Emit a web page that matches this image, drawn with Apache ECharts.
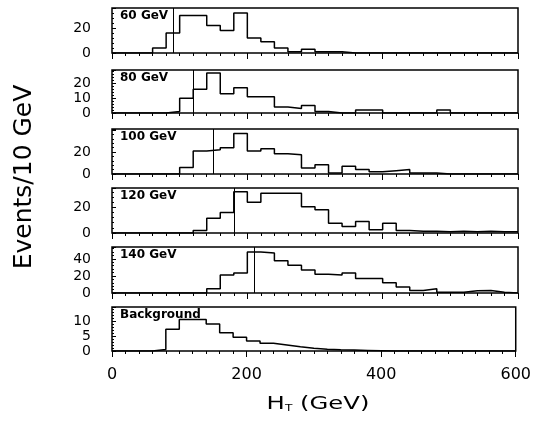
<!DOCTYPE html>
<html>
<head>
<meta charset="utf-8">
<script src="https://cdn.jsdelivr.net/npm/echarts@6/dist/echarts.min.js"></script>
<style>
  html, body { margin: 0; padding: 0; background: #fff; }
  #main { width: 534px; height: 421px; }
</style>
</head>
<body>
<div id="main"></div>
<script>
// bin left edges, 20 GeV wide
var binEdges = [0, 20, 40, 60, 80, 100, 120, 140, 160, 180, 200, 220, 240, 260, 280,
  300, 320, 340, 360, 380, 400, 420, 440, 460, 480, 500, 520, 540, 560, 580];
var xTicks = [0, 200, 400, 600];

var panelNames = ['60 GeV', '80 GeV', '100 GeV', '120 GeV', '140 GeV', 'Background'];
var cutValues = [90, 120, 150, 180, 210, null];

var h60 = [0, 0, 0, 4, 16, 30, 30, 22, 18, 32, 12, 9, 4, 1, 3,
  1, 1, 0, 0, 0, 0, 0, 0, 0, 0, 0, 0, 0, 0, 0];
var h80 = [0, 0, 0, 0, 1, 10, 16, 27, 13, 17, 11, 11, 4, 3, 5,
  1, 0, 0, 2, 2, 0, 0, 0, 0, 2, 0, 0, 0, 0, 0];
var h100 = [0, 0, 0, 0, 0, 6, 21, 22, 24, 37, 21, 23, 18.5, 17.5, 5.5,
  8.5, 1, 7, 4, 2, 3, 4, 1, 1, 0, 0, 0, 0, 0, 0];
var h120 = [0, 0, 0, 0, 0, 0, 2, 11.5, 16, 32, 24, 31, 31, 31, 20.5,
  18, 7.5, 5, 9, 2.5, 7.5, 2, 1.3, 1.3, 1, 1.3, 1, 1.3, 1, 1];
var h140 = [0, 0, 0, 0, 0, 0, 0, 5, 21, 23.5, 48, 47, 38, 32.5, 27,
  22, 21, 23.5, 17, 17, 12, 7, 3, 5, 1, 1, 2.5, 3, 1, 0];
var hBkg = [0, 0, 0, 0.5, 7.3, 10.5, 10.5, 9, 6.1, 4.6, 3.3, 2.6, 2, 1.4, 0.9,
  0.6, 0.4, 0.3, 0.2, 0.1, 0, 0, 0, 0, 0, 0, 0, 0, 0, 0];

var hists = [h60, h80, h100, h120, h140, hBkg];
var yMax = [36, 29, 41, 35, 54, 14.7];
var yStep = [20, 10, 20, 20, 20, 5];
var yLabels = [[0, 20], [0, 10, 20], [0, 20], [0, 20], [0, 20, 40], [0, 5, 10]];

var panelTop = [8, 70, 129, 188, 247, 307];
var panelHeight = [45, 43, 45, 45, 46, 44];

var font = '"DejaVu Sans", sans-serif';

function stepData(vals) {
  var d = binEdges.map(function (x, i) { return [x, vals[i]]; });
  d.push([600, vals[vals.length - 1]]);
  return d;
}

var grids = [], xAxes = [], yAxes = [], series = [], titles = [];

for (var i = 0; i < hists.length; i++) {
  var last = i === hists.length - 1;
  grids.push({
    left: 112, right: 16, top: panelTop[i], height: panelHeight[i],
    show: true, borderColor: '#000', borderWidth: 1.5, backgroundColor: 'transparent'
  });
  xAxes.push({
    type: 'value', gridIndex: i, min: 0, max: 600, interval: 200,
    axisLine: { show: false },
    axisTick: { show: true, inside: false, length: 6, lineStyle: { color: '#000', width: 1 } },
    minorTick: { show: true, splitNumber: 10, length: 3, lineStyle: { color: '#000', width: 1 } },
    splitLine: { show: false },
    axisLabel: {
      show: last, margin: 16, color: '#000', fontSize: 16, fontFamily: font,
      formatter: function (v) { return xTicks.indexOf(v) >= 0 ? v : ''; }
    }
  });
  yAxes.push({
    type: 'value', gridIndex: i, min: 0, max: yMax[i], interval: yStep[i],
    axisLine: { show: false },
    axisTick: { show: true, inside: true, length: 4, lineStyle: { color: '#000' } },
    minorTick: { show: true, splitNumber: 5, length: 2, lineStyle: { color: '#000' } },
    splitLine: { show: false },
    // labels are placed below through convertToPixel, the axis drops them when packed this tight
    axisLabel: { show: false }
  });
  var s = {
    type: 'line', xAxisIndex: i, yAxisIndex: i, step: 'end',
    showSymbol: false, symbol: 'none', silent: true, animation: false,
    lineStyle: { color: '#000', width: 1.5 },
    data: stepData(hists[i])
  };
  if (cutValues[i] !== null) {
    s.markLine = {
      silent: true, symbol: 'none', animation: false,
      label: { show: false },
      lineStyle: { color: '#000', width: 1, type: 'solid' },
      data: [{ xAxis: cutValues[i] }]
    };
  }
  series.push(s);
  titles.push({
    text: panelNames[i], left: 120, top: panelTop[i] + 2, padding: 0,
    textStyle: { fontSize: 12, fontWeight: 'bold', color: '#000', fontFamily: font }
  });
}

var axisTitles = [{
  type: 'text', x: 24, y: 177, rotation: Math.PI / 2,
  style: {
    text: 'Events/10 GeV', fill: '#000', fontSize: 25, fontFamily: font,
    textAlign: 'center', textVerticalAlign: 'middle'
  }
}, {
  type: 'text', x: 318, y: 404, scaleX: 1.35,
  style: {
    text: '{h|H}{s|T}{h| (GeV)}', fill: '#000', textAlign: 'center', textVerticalAlign: 'middle',
    rich: {
      h: { fontSize: 18, fontFamily: font, fill: '#000' },
      s: { fontSize: 9, fontFamily: font, fill: '#000', verticalAlign: 'bottom', padding: [8, 0, 0, 0] }
    }
  }
}];

var chart = echarts.init(document.getElementById('main'));
chart.setOption({
  animation: false,
  title: titles,
  grid: grids,
  xAxis: xAxes,
  yAxis: yAxes,
  series: series
});

// y tick labels
var tickText = [];
yLabels.forEach(function (labels, g) {
  labels.forEach(function (v) {
    var p = chart.convertToPixel({ gridIndex: g }, [0, v]);
    tickText.push({
      type: 'text', x: p[0] - 21, y: p[1] + 0.5,
      style: {
        text: String(v), fill: '#000', fontSize: 14, fontFamily: font,
        textAlign: 'right', textVerticalAlign: 'middle'
      }
    });
  });
});
chart.setOption({ graphic: axisTitles.concat(tickText) });
</script>
</body>
</html>
